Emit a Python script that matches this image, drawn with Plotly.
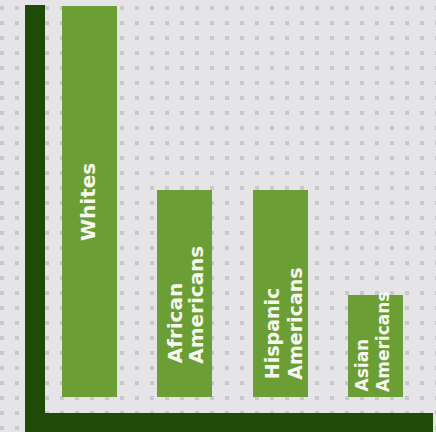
import plotly.graph_objects as go

# ---- data ----
categories = ["Whites", "African Americans", "Hispanic Americans", "Asian Americans"]
values = [100, 53, 53, 26]
label_lines = [["Whites"], ["African", "Americans"], ["Hispanic", "Americans"], ["Asian", "Americans"]]

# ---- styling ----
BG = "#e5e5e8"
DOT = "#c9c9cd"
BAR = "#6b9f35"
DARK = "#1f4b09"
TEXT = "#f6f8f0"
FONT = "DejaVu Sans"

W, H = 436, 432

fig = go.Figure()

fig.add_trace(go.Bar(
    x=categories, y=values,
    xaxis="x2", yaxis="y2",
    marker=dict(color=BAR, line=dict(width=0)),
    width=0.577,
    hoverinfo="skip",
    showlegend=False,
))

# label placement (pixel offsets relative to bar centre / base)
line_offsets = [[-2], [-9.5, 10.5], [-8, 14], [-13, 7]]
bottom_shift = [153, 31, 15, 3]
font_sizes = [20, 20, 19, 17]

annotations = []
for cat, lines, offs, ys, fs in zip(categories, label_lines, line_offsets, bottom_shift, font_sizes):
    for ln, dx in zip(lines, offs):
        annotations.append(dict(
            x=cat, y=0, xref="x2", yref="y2",
            text="<b>%s</b>" % ln, textangle=-90,
            showarrow=False, xanchor="center", yanchor="bottom",
            xshift=dx, yshift=ys,
            font=dict(family=FONT, size=fs, color=TEXT),
        ))

shapes = [
    # vertical dark axis
    dict(type="rect", xref="x", yref="y", x0=25, x1=45, y0=5, y1=433,
         fillcolor=DARK, line=dict(width=0), layer="above"),
    # horizontal dark axis
    dict(type="rect", xref="x", yref="y", x0=25, x1=433, y0=413, y1=433,
         fillcolor=DARK, line=dict(width=0), layer="above"),
]

fig.update_layout(
    width=W, height=H,
    margin=dict(l=0, r=0, t=0, b=0),
    paper_bgcolor=BG, plot_bgcolor=BG,
    xaxis=dict(range=[0, W], domain=[0, 1], showgrid=False, zeroline=False,
               showticklabels=False, ticks="", fixedrange=True),
    yaxis=dict(range=[H, 0], domain=[0, 1], showgrid=True, gridcolor=DOT,
               gridwidth=4, griddash="4px,11px", tick0=8, dtick=15,
               zeroline=False, showticklabels=False, ticks="", fixedrange=True),
    xaxis2=dict(overlaying="x", anchor="y2", type="category",
                range=[-0.939, 3.635], showgrid=False, zeroline=False,
                showticklabels=False, ticks="", showline=False),
    yaxis2=dict(overlaying="y", anchor="x2", range=[-9.09, 101.54],
                showgrid=False, zeroline=False, showticklabels=False,
                ticks="", showline=False),
    shapes=shapes,
    annotations=annotations,
    bargap=0,
)

fig.write_html("out.html")
